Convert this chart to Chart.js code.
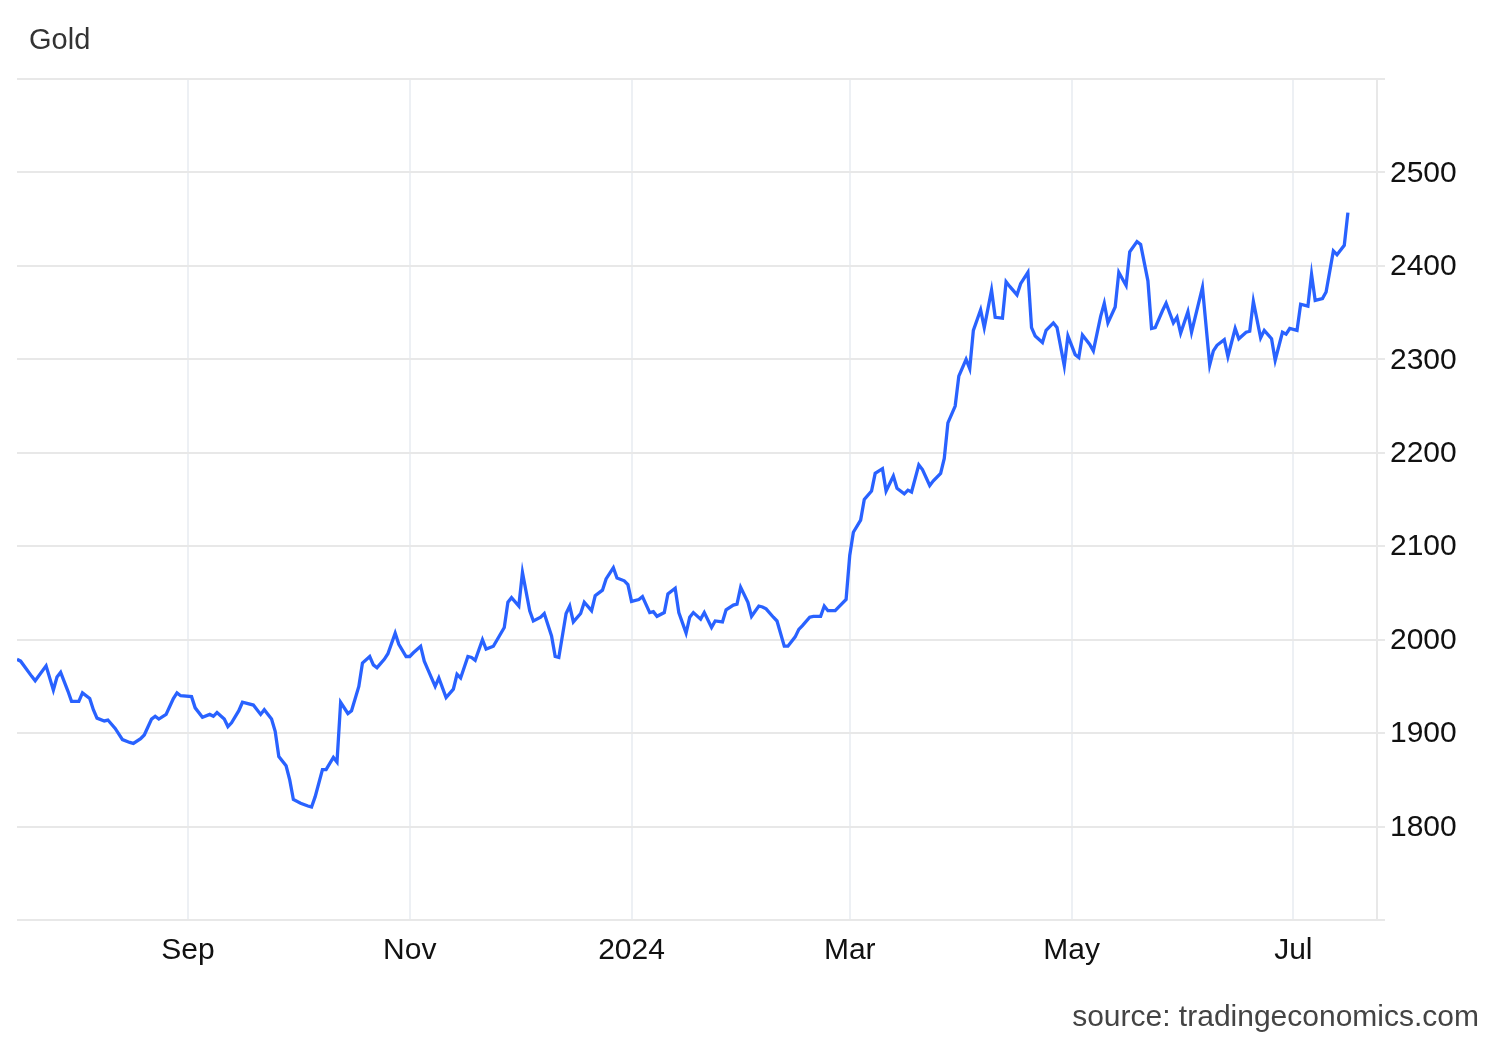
<!DOCTYPE html>
<html>
<head>
<meta charset="utf-8">
<title>Gold</title>
<script src="https://cdn.jsdelivr.net/npm/chart.js@4/dist/chart.umd.min.js"></script>
<style>
  html, body { margin: 0; padding: 0; background: #ffffff; }
  #wrap { position: relative; width: 1500px; height: 1040px; }
</style>
</head>
<body>
<div id="wrap"><canvas id="GoldChart" width="1500" height="1040"></canvas></div>
<script>
// gold price (USD/t.oz)
const dates = [
    '2023-07-16', '2023-07-17', '2023-07-20', '2023-07-21', '2023-07-24', '2023-07-26', '2023-07-27', '2023-07-28', '2023-07-30', '2023-07-31',
    '2023-08-02', '2023-08-03', '2023-08-05', '2023-08-06', '2023-08-07', '2023-08-09', '2023-08-10', '2023-08-12', '2023-08-14', '2023-08-16',
    '2023-08-17', '2023-08-19', '2023-08-20', '2023-08-22', '2023-08-23', '2023-08-24', '2023-08-26', '2023-08-28', '2023-08-29', '2023-08-30',
    '2023-09-02', '2023-09-03', '2023-09-05', '2023-09-07', '2023-09-08', '2023-09-09', '2023-09-11', '2023-09-12', '2023-09-13', '2023-09-15',
    '2023-09-16', '2023-09-19', '2023-09-21', '2023-09-22', '2023-09-24', '2023-09-25', '2023-09-26', '2023-09-28', '2023-09-29', '2023-09-30',
    '2023-10-02', '2023-10-04', '2023-10-05', '2023-10-06', '2023-10-08', '2023-10-09', '2023-10-11', '2023-10-12', '2023-10-13', '2023-10-15',
    '2023-10-16', '2023-10-18', '2023-10-19', '2023-10-21', '2023-10-22', '2023-10-23', '2023-10-25', '2023-10-26', '2023-10-28', '2023-10-29',
    '2023-10-31', '2023-11-01', '2023-11-02', '2023-11-04', '2023-11-05', '2023-11-06', '2023-11-08', '2023-11-09', '2023-11-11', '2023-11-13',
    '2023-11-14', '2023-11-15', '2023-11-17', '2023-11-18', '2023-11-19', '2023-11-21', '2023-11-22', '2023-11-24', '2023-11-27', '2023-11-28',
    '2023-11-29', '2023-12-01', '2023-12-02', '2023-12-04', '2023-12-05', '2023-12-07', '2023-12-08', '2023-12-10', '2023-12-11', '2023-12-12',
    '2023-12-14', '2023-12-15', '2023-12-16', '2023-12-18', '2023-12-19', '2023-12-21', '2023-12-22', '2023-12-24', '2023-12-25', '2023-12-27',
    '2023-12-28', '2023-12-30', '2023-12-31', '2024-01-01', '2024-01-03', '2024-01-04', '2024-01-06', '2024-01-07', '2024-01-08', '2024-01-10',
    '2024-01-11', '2024-01-13', '2024-01-14', '2024-01-16', '2024-01-17', '2024-01-18', '2024-01-20', '2024-01-21', '2024-01-23', '2024-01-24',
    '2024-01-26', '2024-01-27', '2024-01-29', '2024-01-30', '2024-01-31', '2024-02-02', '2024-02-03', '2024-02-05', '2024-02-06', '2024-02-07',
    '2024-02-09', '2024-02-10', '2024-02-12', '2024-02-13', '2024-02-15', '2024-02-16', '2024-02-17', '2024-02-19', '2024-02-20', '2024-02-22',
    '2024-02-23', '2024-02-24', '2024-02-26', '2024-02-27', '2024-02-29', '2024-03-01', '2024-03-02', '2024-03-04', '2024-03-05', '2024-03-07',
    '2024-03-08', '2024-03-10', '2024-03-11', '2024-03-13', '2024-03-14', '2024-03-16', '2024-03-17', '2024-03-18', '2024-03-20', '2024-03-21',
    '2024-03-23', '2024-03-24', '2024-03-26', '2024-03-27', '2024-03-28', '2024-03-30', '2024-03-31', '2024-04-02', '2024-04-03', '2024-04-04',
    '2024-04-06', '2024-04-07', '2024-04-09', '2024-04-10', '2024-04-12', '2024-04-13', '2024-04-14', '2024-04-16', '2024-04-17', '2024-04-19',
    '2024-04-20', '2024-04-21', '2024-04-23', '2024-04-24', '2024-04-26', '2024-04-27', '2024-04-29', '2024-04-30', '2024-05-02', '2024-05-03',
    '2024-05-04', '2024-05-06', '2024-05-07', '2024-05-09', '2024-05-10', '2024-05-11', '2024-05-13', '2024-05-14', '2024-05-16', '2024-05-17',
    '2024-05-19', '2024-05-20', '2024-05-22', '2024-05-23', '2024-05-24', '2024-05-26', '2024-05-27', '2024-05-29', '2024-05-30', '2024-05-31',
    '2024-06-02', '2024-06-03', '2024-06-06', '2024-06-08', '2024-06-09', '2024-06-10', '2024-06-12', '2024-06-13', '2024-06-15', '2024-06-16',
    '2024-06-18', '2024-06-19', '2024-06-20', '2024-06-22', '2024-06-23', '2024-06-25', '2024-06-26', '2024-06-28', '2024-06-29', '2024-06-30',
    '2024-07-02', '2024-07-03', '2024-07-05', '2024-07-06', '2024-07-07', '2024-07-09', '2024-07-10', '2024-07-12', '2024-07-13', '2024-07-15',
    '2024-07-16'
];
const prices = [
    1979, 1977, 1961, 1956, 1972, 1946, 1960, 1965, 1945, 1934,
    1934, 1943, 1937, 1925, 1916, 1913, 1914, 1905, 1893, 1890,
    1889, 1894, 1898, 1915, 1918, 1915, 1920, 1937, 1943, 1940,
    1939, 1927, 1917, 1920, 1918, 1922, 1915, 1907, 1911, 1924,
    1933, 1930, 1920, 1925, 1915, 1902, 1875, 1865, 1850, 1829,
    1825, 1822, 1821, 1832, 1861, 1861, 1874, 1869, 1933, 1921,
    1924, 1950, 1975, 1982, 1973, 1970, 1979, 1985, 2007, 1995,
    1982, 1982, 1986, 1993, 1977, 1968, 1950, 1959, 1938, 1947,
    1963, 1959, 1982, 1981, 1978, 2000, 1990, 1993, 2013, 2040,
    2045, 2036, 2072, 2031, 2020, 2024, 2028, 2004, 1982, 1981,
    2028, 2036, 2019, 2028, 2040, 2031, 2047, 2053, 2065, 2077,
    2066, 2063, 2059, 2041, 2043, 2046, 2029, 2030, 2025, 2029,
    2049, 2055, 2029, 2007, 2024, 2029, 2022, 2029, 2013, 2020,
    2019, 2032, 2037, 2038, 2056, 2040, 2025, 2036, 2035, 2033,
    2024, 2020, 1993, 1993, 2003, 2011, 2015, 2024, 2025, 2025,
    2036, 2031, 2031, 2035, 2043, 2090, 2115, 2128, 2150, 2159,
    2178, 2183, 2159, 2175, 2162, 2156, 2160, 2158, 2187, 2182,
    2165, 2170, 2178, 2194, 2232, 2250, 2282, 2300, 2290, 2331,
    2353, 2334, 2374, 2345, 2344, 2383, 2378, 2369, 2381, 2393,
    2334, 2325, 2318, 2331, 2339, 2334, 2293, 2325, 2305, 2302,
    2326, 2316, 2309, 2346, 2360, 2339, 2356, 2393, 2379, 2415,
    2426, 2423, 2384, 2333, 2334, 2352, 2360, 2339, 2345, 2328,
    2351, 2329, 2377, 2294, 2309, 2315, 2321, 2303, 2333, 2322,
    2329, 2330, 2362, 2323, 2331, 2322, 2299, 2329, 2327, 2333,
    2331, 2359, 2357, 2391, 2363, 2365, 2372, 2416, 2412, 2422,
    2457
];
const tickDates = ['2023-09-01', '2023-11-01', '2024-01-01', '2024-03-01', '2024-05-01', '2024-07-01'];
const tickLabels = ['Sep', 'Nov', '2024', 'Mar', 'May', 'Jul'];
const xStart = '2023-07-16';
const xEnd = '2024-07-24';

function DayNum(s) {
    return Date.parse(s + 'T00:00:00Z') / 86400000;
}

const FONT = "'Liberation Sans', Arial, Helvetica, sans-serif";

const points = dates.map((d, i) => ({ x: DayNum(d), y: prices[i] }));
const tickNums = tickDates.map(DayNum);

// title top-left and source bottom-right
const textPlugin = {
    id: 'pageText',
    afterDraw(chart) {
        const ctx = chart.ctx;
        ctx.save();
        ctx.textBaseline = 'middle';
        ctx.font = '29px ' + FONT;
        ctx.fillStyle = '#333333';
        ctx.textAlign = 'left';
        ctx.fillText('Gold', 29, 41);
        ctx.font = '30px ' + FONT;
        ctx.fillStyle = '#444444';
        ctx.textAlign = 'right';
        ctx.fillText('source: tradingeconomics.com', 1479, 1018);
        ctx.restore();
    }
};

const ctx = document.getElementById('GoldChart').getContext('2d');
const goldChart = new Chart(ctx, {
    type: 'line',
    data: {
        datasets: [{
            label: 'Gold',
            data: points,
            borderColor: '#2962ff',
            backgroundColor: 'transparent',
            borderWidth: 3.3,
            pointRadius: 0,
            tension: 0,
            fill: false
        }]
    },
    options: {
        responsive: false,
        animation: false,
        devicePixelRatio: 1,
        layout: { padding: { left: 17, top: 79, right: 0, bottom: 0 } },
        plugins: {
            legend: { display: false },
            tooltip: { enabled: false }
        },
        scales: {
            x: {
                type: 'linear',
                min: DayNum(xStart),
                max: DayNum(xEnd),
                afterBuildTicks: scale => {
                    scale.ticks = tickNums.map(v => ({ value: v }));
                },
                afterFit: scale => { scale.height = 120; },
                grid: { color: '#edf0f4', lineWidth: 2, drawTicks: false },
                border: { display: false },
                ticks: {
                    autoSkip: false,
                    maxRotation: 0,
                    padding: 13,
                    color: '#111111',
                    font: { family: FONT, size: 30 },
                    callback: value => tickLabels[tickNums.indexOf(value)]
                }
            },
            y: {
                position: 'right',
                min: 1700,
                max: 2600,
                afterFit: scale => { scale.width = 123; },
                grid: { color: '#e8e8e8', lineWidth: 2, tickLength: 8 },
                border: { display: true, color: '#e8e8e8', width: 2 },
                ticks: {
                    stepSize: 100,
                    padding: 5,
                    labelOffset: 1,
                    color: '#111111',
                    font: { family: FONT, size: 30 },
                    callback: value => (value === 1700 || value === 2600) ? '' : value
                }
            }
        }
    },
    plugins: [textPlugin]
});
</script>
</body>
</html>
